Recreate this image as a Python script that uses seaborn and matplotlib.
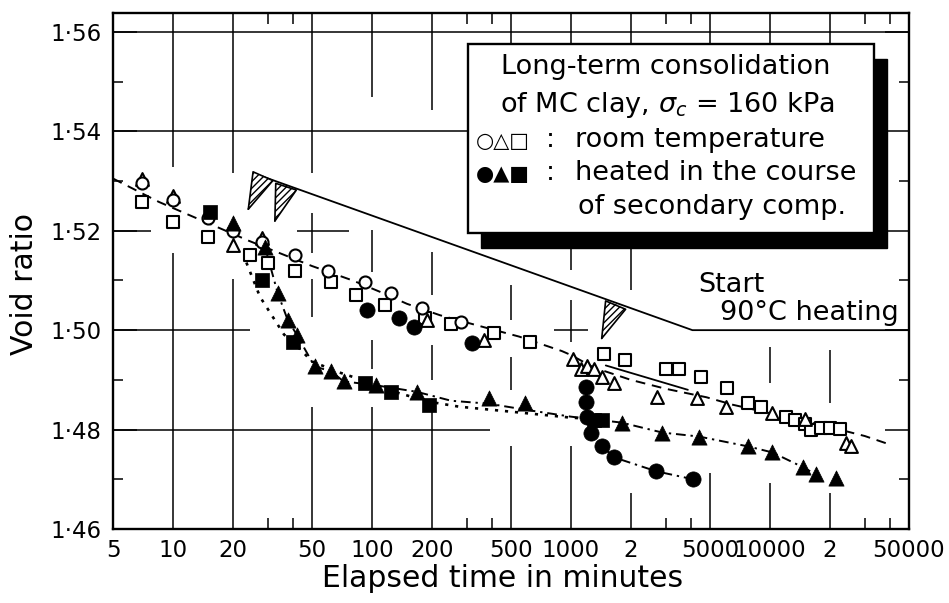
import numpy as np
import pandas as pd
import seaborn as sns
import matplotlib.pyplot as plt
from matplotlib.patches import Rectangle
from matplotlib.ticker import FixedLocator, NullFormatter

sns.set_theme(style="white")
plt.rcParams["font.family"] = ["DejaVu Sans"]
plt.rcParams.update({"text.color": "black", "axes.labelcolor": "black",
                     "xtick.color": "black", "ytick.color": "black"})

# ---- data: elapsed time (min) and void ratio ----
# room temperature (open symbols)
circ_t = [7, 10, 15, 20, 28, 41, 60, 92, 125, 179, 280]
circ_e = [1.5296, 1.5262, 1.5226, 1.5200, 1.5178, 1.5152, 1.5118, 1.5096, 1.5075, 1.5045, 1.5016]
tri_t = [7, 10, 20, 28, 189, 367, 1030, 1120, 1210, 1300, 1440, 1650, 2700, 4300, 6000,
         10200, 15000, 24000, 25500]
tri_e = [1.5304, 1.5270, 1.5172, 1.5185, 1.5021, 1.4981, 1.4941, 1.4921, 1.4927, 1.4921,
         1.4905, 1.4894, 1.4866, 1.4864, 1.4846, 1.4834, 1.4822, 1.4774, 1.4766]
sq_t = [7, 10, 15, 24.5, 30, 41, 62, 83, 116, 185, 250, 410, 620, 1460, 1870, 3000, 3500,
        4480, 6100, 7800, 9000, 12000, 13400, 15000, 16000, 18000, 20000, 22500]
sq_e = [1.5258, 1.5218, 1.5188, 1.5152, 1.5136, 1.5118, 1.5096, 1.5071, 1.5051, 1.5025,
        1.5013, 1.4995, 1.4977, 1.4953, 1.4940, 1.4922, 1.4922, 1.4906, 1.4884, 1.4853,
        1.4846, 1.4825, 1.4819, 1.4812, 1.4800, 1.4804, 1.4804, 1.4802]

# heated in the course of secondary compression (filled symbols)
fcirc_t = [94, 137, 163, 320, 1190, 1190, 1200, 1260, 1440, 1650, 2690, 4120]
fcirc_e = [1.5041, 1.5025, 1.5007, 1.4975, 1.4885, 1.4856, 1.4826, 1.4794, 1.4766, 1.4744,
           1.4716, 1.4700]
ftri_t = [20, 29, 33.6, 37.7, 41.9, 51.5, 62.5, 72, 105, 168, 388, 590, 1800, 2880, 4400,
          7800, 10300, 14700, 17000, 21400]
ftri_e = [1.5215, 1.5168, 1.5075, 1.5021, 1.4991, 1.4927, 1.4917, 1.4897, 1.4889, 1.4876,
          1.4864, 1.4854, 1.4814, 1.4794, 1.4786, 1.4766, 1.4754, 1.4724, 1.4710, 1.4702]
fsq_t = [15.3, 28, 40, 92, 125, 194, 1300, 1440]
fsq_e = [1.5238, 1.5100, 1.4977, 1.4893, 1.4876, 1.4850, 1.4820, 1.4820]

# curves drawn through the data
room_t = [5, 8.5, 12, 17, 24, 50, 80, 110, 150, 220, 350, 550, 900, 1000, 1300, 2000, 3000,
          4800, 6500, 10000, 20000, 30000, 40000]
room_e = [1.5305, 1.5258, 1.5232, 1.5206, 1.5180, 1.5129, 1.5100, 1.5077, 1.5053, 1.5030,
          1.5008, 1.4987, 1.4958, 1.4950, 1.4925, 1.4900, 1.4882, 1.4865, 1.4850, 1.4833,
          1.4805, 1.4787, 1.4770]
slope_t = [1497, 3870]
slope_e = [1.4929, 1.4880]
hcirc_t = [1190, 1190, 1200, 1260, 1440, 1650, 2690, 4120]
hcirc_e = [1.4885, 1.4856, 1.4826, 1.4794, 1.4766, 1.4744, 1.4716, 1.4700]
htri_t = [29, 33.6, 37.7, 41.9, 51.5, 62.5, 72, 105, 168, 250, 388, 590, 1000, 1800, 2880,
          4400, 7800, 10300, 14700, 17000]
htri_e = [1.5168, 1.5075, 1.5021, 1.4991, 1.4927, 1.4917, 1.4897, 1.4889, 1.4876, 1.4858,
          1.4852, 1.4840, 1.4826, 1.4814, 1.4794, 1.4786, 1.4766, 1.4754, 1.4724, 1.4710]
hsq_t = [23.4, 27.4, 36.2, 40, 50, 68.5, 97, 132, 194, 275, 500, 1000, 1440]
hsq_e = [1.5136, 1.5067, 1.4991, 1.4977, 1.4937, 1.4915, 1.4895, 1.4875, 1.4856, 1.4846,
         1.4836, 1.4824, 1.4820]

# "Start 90 C heating" leader line and arrows (base -> tip)
lead_t = [28.3, 4080, 50000]
lead_e = [1.5309, 1.5000, 1.5000]
arrows = [((28.3, 1.5309), (23.6, 1.5238)),
          ((37.2, 1.5291), (32.2, 1.5214)),
          ((1680, 1.5051), (1410, 1.4978))]

xticks = [5, 10, 20, 50, 100, 200, 500, 1000, 2000, 5000, 10000, 20000, 50000]
xtick_labels = ["5", "10", "20", "50", "100", "200", "500", "1000", "2", "5000", "10000",
                "2", "50000"]
xminor = [30, 40, 300, 400, 3000, 4000, 30000, 40000]
yticks = [1.46, 1.48, 1.50, 1.52, 1.54, 1.56]
ytick_labels = ["1·46", "1·48", "1·50", "1·52", "1·54", "1·56"]
yminor = [1.47, 1.49, 1.51, 1.53, 1.55]

# graph-paper grid pieces (partly hidden behind data in the original)
YTOP = 1.5638
vgrid = {
    10: [(1.5329, YTOP), (1.46, 1.5156)],
    20: [(1.5317, YTOP), (1.46, 1.5102)],
    50: [(1.5317, YTOP), (1.5156, 1.5236), (1.5027, 1.5102), (1.46, 1.4846)],
    100: [(1.5469, YTOP), (1.5116, 1.5202), (1.4921, 1.4981), (1.46, 1.4846)],
    200: [(1.5443, YTOP), (1.5071, 1.5158), (1.4900, 1.4971), (1.46, 1.4840)],
    500: [(1.5576, YTOP), (1.5021, 1.5091), (1.4880, 1.4947), (1.46, 1.4766)],
    1000: [(1.5576, YTOP), (1.5122, 1.5166), (1.4977, 1.5061), (1.46, 1.4766)],
    2000: [(1.5576, YTOP), (1.5081, 1.5166), (1.46, 1.4673)],
    5000: [(1.5576, YTOP), (1.46, 1.4713)],
    10000: [(1.5576, YTOP), (1.4894, 1.4967), (1.46, 1.4693)],
    20000: [(1.5576, YTOP), (1.4854, 1.4961), (1.46, 1.4673)],
}
hgrid = {
    1.56: [(5, 50000)],
    1.54: [(5, 300)],
    1.52: [(5, 7.8), (42, 77)],
    1.50: [(5, 24.3), (823, 1220)],
    1.48: [(5, 390)],
}

fig = plt.figure(figsize=(9.49, 6.03), dpi=100)
ax = fig.add_axes([113 / 949, 1 - 529 / 603, 796 / 949, 516 / 603])
ax.set_xscale("log")
ax.set_xlim(5, 50000)
ax.set_ylim(1.46, YTOP)

for x, segs in vgrid.items():
    for y0, y1 in segs:
        ax.vlines(x, y0, y1, color="black", lw=1.1, zorder=1)
for y, segs in hgrid.items():
    for x0, x1 in segs:
        ax.hlines(y, x0, x1, color="black", lw=1.1, zorder=1)

# curves
def curve(t, e, ls, lw=1.4):
    sns.lineplot(x=t, y=e, ax=ax, color="black", lw=lw, linestyle=ls, sort=False,
                 estimator=None, zorder=2)

curve(room_t, room_e, (0, (5, 3.5)))
curve(slope_t, slope_e, "-", 1.3)
curve(hcirc_t, hcirc_e, (0, (5, 2.5, 1.2, 2.5)))
curve(htri_t, htri_e, (0, (5, 2.5, 1.2, 2.5)))
curve(hsq_t, hsq_e, (0, (1.2, 2.6)), 1.9)
curve(lead_t, lead_e, "-", 1.3)

# markers
open_kw = dict(color="white", edgecolor="black", linewidth=1.5, zorder=4, ax=ax)
fill_kw = dict(color="black", edgecolor="black", linewidth=0.5, zorder=5, ax=ax)
sns.scatterplot(x=sq_t, y=sq_e, marker="s", s=75, **open_kw)
sns.scatterplot(x=tri_t, y=tri_e, marker="^", s=85, **open_kw)
sns.scatterplot(x=circ_t, y=circ_e, marker="o", s=75, **open_kw)
sns.scatterplot(x=fsq_t, y=fsq_e, marker="s", s=95, **fill_kw)
sns.scatterplot(x=ftri_t, y=ftri_e, marker="^", s=120, **fill_kw)
sns.scatterplot(x=fcirc_t, y=fcirc_e, marker="o", s=120, **fill_kw)

for base, tip in arrows:
    ax.annotate("", xy=tip, xytext=base,
                arrowprops=dict(arrowstyle="-|>,head_length=1.0,head_width=0.3",
                                mutation_scale=26, fc="white", ec="black", lw=1.2,
                                hatch="/////", shrinkA=0, shrinkB=0), zorder=3)

# axes, ticks
for s in ax.spines.values():
    s.set_linewidth(1.7)
    s.set_color("black")
ax.xaxis.set_major_locator(FixedLocator(xticks))
ax.set_xticklabels(xtick_labels)
ax.xaxis.set_minor_locator(FixedLocator(xminor))
ax.xaxis.set_minor_formatter(NullFormatter())
ax.set_yticks(yticks)
ax.set_yticklabels(ytick_labels)
ax.yaxis.set_minor_locator(FixedLocator(yminor))
ax.tick_params(axis="x", which="major", length=0, labelsize=16.5, pad=7)
ax.tick_params(axis="x", which="minor", direction="in", length=8, width=1.1,
               top=True, bottom=True)
ax.tick_params(axis="y", which="major", direction="in", length=17, width=1.1,
               left=True, right=True, labelsize=16.5, pad=8)
ax.tick_params(axis="y", which="minor", direction="in", length=7, width=1.1,
               left=True, right=True)
ax.set_xlabel("Elapsed time in minutes", fontsize=21.5)
ax.xaxis.set_label_coords(0.49, -0.095)
ax.xaxis.label.set_va("center")
ax.set_ylabel("Void ratio", fontsize=21.5)
ax.yaxis.set_label_coords(-0.111, 0.475)
ax.yaxis.label.set_va("center")

# legend box with shadow
def axf(px, py):
    return (px - 113) / 796, (529 - py) / 516

bx, by = axf(468, 233)
sx, sy = axf(481, 248)
bw, bh = 406 / 796, 189 / 516
ax.add_patch(Rectangle((sx, sy), bw, bh, transform=ax.transAxes, fc="black", ec="black",
                       zorder=6, clip_on=False))
ax.add_patch(Rectangle((bx, by), bw, bh, transform=ax.transAxes, fc="white", ec="black",
                       lw=1.7, zorder=7, clip_on=False))
fs = 19.5
tkw = dict(transform=ax.transAxes, fontsize=fs, va="center", zorder=8)
ax.text(*axf(666, 67), "Long-term consolidation", ha="center", **tkw)
ax.text(*axf(668, 105), r"of MC clay, $\sigma_c$ = 160 kPa", ha="center", **tkw)
ax.text(*axf(476, 141), "○△□", ha="left", transform=ax.transAxes, fontsize=15,
        va="center", zorder=8)
ax.text(*axf(476, 174), "●▲■", ha="left", transform=ax.transAxes, fontsize=15,
        va="center", zorder=8)
ax.text(*axf(546, 140), ":", ha="left", **tkw)
ax.text(*axf(546, 173), ":", ha="left", **tkw)
ax.text(*axf(575, 140), "room temperature", ha="left", **tkw)
ax.text(*axf(575, 173), "heated in the course", ha="left", **tkw)
ax.text(*axf(578, 207), "of secondary comp.", ha="left", **tkw)

ax.text(*axf(698, 285), "Start", transform=ax.transAxes, fontsize=fs, ha="left",
        va="center")
ax.text(*axf(720, 313), "90°C heating", transform=ax.transAxes, fontsize=fs, ha="left",
        va="center")

fig.savefig("out.png", dpi=100)
